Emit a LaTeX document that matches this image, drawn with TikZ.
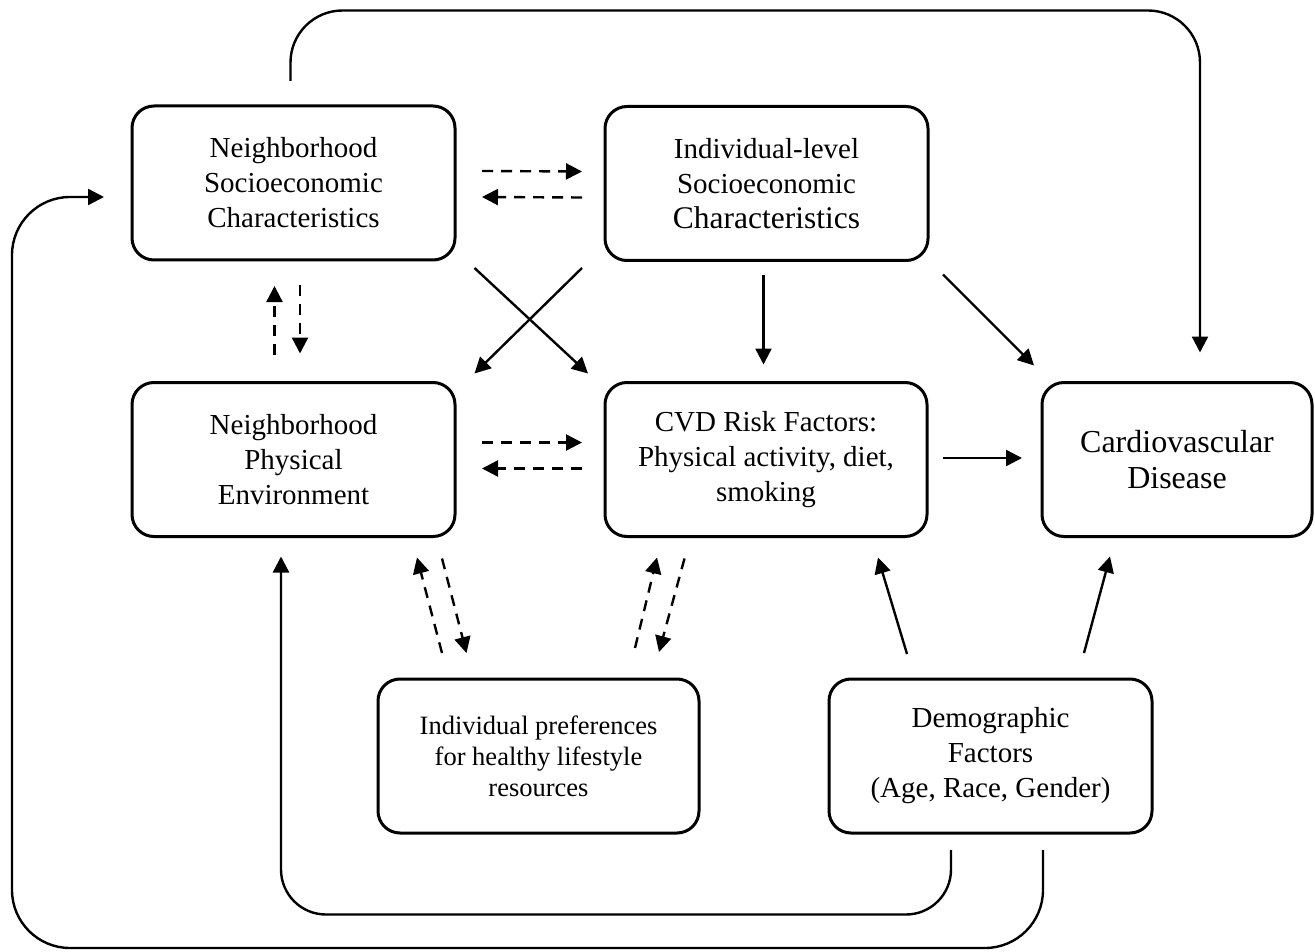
\documentclass[tikz,border=0pt]{standalone}
\usepackage{fontspec}
\setmainfont{Liberation Serif}
\usetikzlibrary{arrows.meta,calc}
\tikzset{
  factor/.style={draw, rounded corners=22pt, line width=3pt, align=center, outer sep=0pt,
    minimum width=323pt, minimum height=154pt, inner sep=0pt, font=\fontsize{29}{35}\selectfont},
  link/.style={line width=2.4pt, -{Triangle[length=16pt,width=16pt]}},
  maybe/.style={link, dash pattern=on 11pt off 8pt},
}

\begin{document}
\begin{tikzpicture}[x=1pt,y=-1pt]
\useasboundingbox (0,0) rectangle (1315,952);

\node[factor] (nse) at (293.5,183) {Neighborhood\\Socioeconomic\\Characteristics};
\node[factor] (ils) at (766.5,183.5) {Individual-level\\Socioeconomic\\{\fontsize{31.5}{35}\selectfont Characteristics}};
\node[factor] (npe) at (293.5,459.5) {Neighborhood\\Physical\\Environment};
\node[factor,minimum width=322pt] (cvd) at (766,459.5) {CVD Risk Factors:\\Physical activity, diet,\\smoking};
\node[factor,minimum width=270pt,font=\fontsize{32}{36}\selectfont] (cd) at (1177,459.5) {Cardiovascular\\Disease};
\node[factor,minimum width=321pt,font=\fontsize{26.5}{31}\selectfont] (pref) at (538.5,756) {Individual preferences\\for healthy lifestyle\\resources};
\node[factor] (demo) at (990.5,756) {Demographic\\Factors\\(Age, Race, Gender)};
\coordinate (corner) at (12,948);

% two-way dashed links
\draw[maybe] ($(nse.east)+(27,-12)$) -- ($(ils.west)+(-23,-12)$);
\draw[maybe] ($(ils.west)+(-23,14)$) -- ($(nse.east)+(27,14)$);
\draw[maybe] ($(npe.east)+(27,-17)$) -- ($(cvd.west)+(-23,-17)$);
\draw[maybe] ($(cvd.west)+(-23,9)$) -- ($(npe.east)+(27,9)$);
\draw[maybe] ($(npe.north)+(-19,-28)$) -- ($(nse.south)+(-19,26)$);
\draw[maybe] ($(nse.south)+(6.5,25)$) -- ($(npe.north)+(6.5,-29)$);
\draw[maybe] ($(pref.north)+(-96.5,-26)$) -- ($(npe.south)+(123.5,21)$);
\draw[maybe] ($(npe.south)+(148.5,22)$) -- ($(pref.north)+(-72,-26)$);
\draw[maybe] ($(pref.north)+(96.5,-31)$) -- ($(cvd.south)+(-109,21)$);
\draw[maybe] ($(cvd.south)+(-81.5,22)$) -- ($(pref.north)+(120.5,-27)$);

% direct effects
\draw[link] ($(nse.south east)+(19.5,8)$) -- ($(cvd.north west)+(-17,-9)$);
\draw[link] ($(ils.south west)+(-23,7.5)$) -- ($(npe.north east)+(19.5,-9)$);
\draw[link] ($(ils.south)+(-3,15)$) -- ($(cvd.north)+(-2.5,-18)$);
\draw[link] ($(ils.south east)+(15,14)$) -- ($(cd.north west)+(-8,-17)$);
\draw[link] ($(cvd.east)+(16,-1.5)$) -- ($(cd.west)+(-20,-1.5)$);
\draw[link] ($(demo.north)+(-83.5,-25)$) -- ($(cvd.south)+(112,21)$);
\draw[link] ($(demo.north)+(93.5,-26)$) -- ($(cd.south)+(-67,20)$);

% long paths around the boxes
\draw[link,rounded corners=52pt] ($(nse.north)+(-3,-25)$) |- ($(cd.north)+(23,-372)$) -- ($(cd.north)+(23,-30)$);
\draw[link,rounded corners=45pt] ($(demo.south)+(-39.5,17)$) |- ($(npe.south)+(-12.5,378)$) -- ($(npe.south)+(-12.5,20)$);
\draw[link,rounded corners=58pt] ($(demo.south)+(52.5,17)$) |- (corner) |- ($(nse.west)+(-28,14)$);

\end{tikzpicture}
\end{document}
